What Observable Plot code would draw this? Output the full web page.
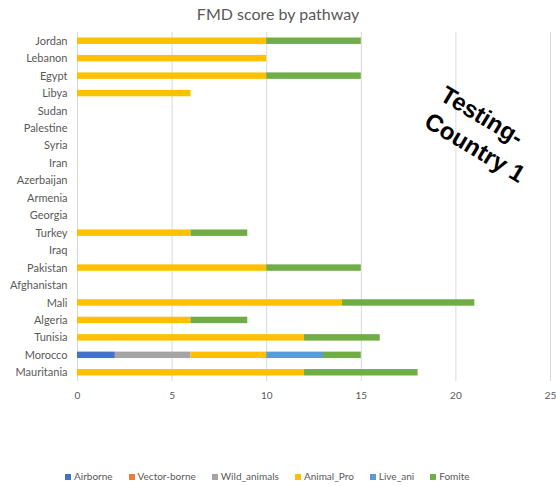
<!DOCTYPE html>
<html>
<head>
<meta charset="utf-8">
<script src="https://cdn.jsdelivr.net/npm/d3@7"></script>
<script src="https://cdn.jsdelivr.net/npm/@observablehq/plot@0.6"></script>
<style>
  html, body { margin: 0; padding: 0; background: #fff; }
  #wrap { position: relative; width: 556px; height: 486px; overflow: hidden; font-family: Lato, "Open Sans", sans-serif; }
  #title { position: absolute; left: 0; width: 556px; top: 4px; text-align: center; font-size: 16px; color: #595959; }
  #legend { position: absolute; left: 65px; top: 470px; display: flex; gap: 16px; font-size: 10px; color: #595959; white-space: nowrap; }
  #legend span.sw { display: inline-block; width: 6px; height: 6px; margin-right: 3px; vertical-align: 0px; }
  #stamp { position: absolute; left: 483px; top: 134px; transform: translate(-50%, -50%) rotate(31deg); font-family: "Liberation Sans", Arial, sans-serif; font-weight: bold; font-size: 24px; line-height: 31px; text-align: left; color: #000; white-space: nowrap; }
  svg { position: absolute; left: 0; top: 0; }
</style>
</head>
<body>
<div id="wrap">
  <div id="plot"></div>
  <div id="title">FMD score by pathway</div>
  <div id="legend"></div>
  <div id="stamp">Testing-<br>Country 1</div>
</div>
<script>
const countries = ["Jordan","Lebanon","Egypt","Libya","Sudan","Palestine","Syria","Iran","Azerbaijan","Armenia","Georgia","Turkey","Iraq","Pakistan","Afghanistan","Mali","Algeria","Tunisia","Morocco","Mauritania"];
const pathways = ["Airborne","Vector-borne","Wild_animals","Animal_Pro","Live_ani","Fomite"];
const colors = ["#4472C4","#ED7D31","#A5A5A5","#FFC000","#5B9BD5","#70AD47"];
const airborne    = [0,0,0,0,0,0,0,0,0,0,0,0,0,0,0,0,0,0,2,0];
const vectorBorne = [0,0,0,0,0,0,0,0,0,0,0,0,0,0,0,0,0,0,0,0];
const wildAnimals = [0,0,0,0,0,0,0,0,0,0,0,0,0,0,0,0,0,0,4,0];
const animalPro   = [10,10,10,6,0,0,0,0,0,0,0,6,0,10,0,14,6,12,4,12];
const liveAni     = [0,0,0,0,0,0,0,0,0,0,0,0,0,0,0,0,0,0,3,0];
const fomite      = [5,0,5,0,0,0,0,0,0,0,0,3,0,5,0,7,3,4,2,6];
const xTicks = [0,5,10,15,20,25];

const series = [airborne, vectorBorne, wildAnimals, animalPro, liveAni, fomite];
const rows = [];
countries.forEach((c, i) => {
  pathways.forEach((p, j) => {
    if (series[j][i] > 0) rows.push({country: c, pathway: p, value: series[j][i]});
  });
});

const chart = Plot.plot({
  width: 556,
  height: 486,
  marginLeft: 77,
  marginRight: 6,
  marginTop: 32,
  marginBottom: 105,
  style: { fontFamily: "Lato, 'Open Sans', sans-serif", fontSize: "11px", color: "#595959", background: "#fff" },
  x: { domain: [0, 25], ticks: xTicks, tickSize: 0, tickPadding: 10, label: null },
  y: { domain: countries, padding: 0, round: false, tickSize: 0, tickPadding: 10, label: null },
  color: { domain: pathways, range: colors },
  marks: [
    Plot.gridX(xTicks, { stroke: "#d9d9d9", strokeOpacity: 1, strokeWidth: 1 }),
    Plot.barX(rows, Plot.stackX({ y: "country", x: "value", fill: "pathway", order: pathways, insetTop: 5.5, insetBottom: 5.5 })),
    Plot.axisX({ ticks: xTicks, tickSize: 0, tickPadding: 10, fill: "#595959", fontSize: 10 }),
    Plot.axisY({ tickSize: 0, tickPadding: 10, fill: "#595959", fontSize: 11 })
  ]
});
document.getElementById("plot").appendChild(chart);

const legend = document.getElementById("legend");
pathways.forEach((p, j) => {
  const item = document.createElement("div");
  item.innerHTML = `<span class="sw" style="background:${colors[j]}"></span>${p}`;
  legend.appendChild(item);
});
</script>
</body>
</html>
